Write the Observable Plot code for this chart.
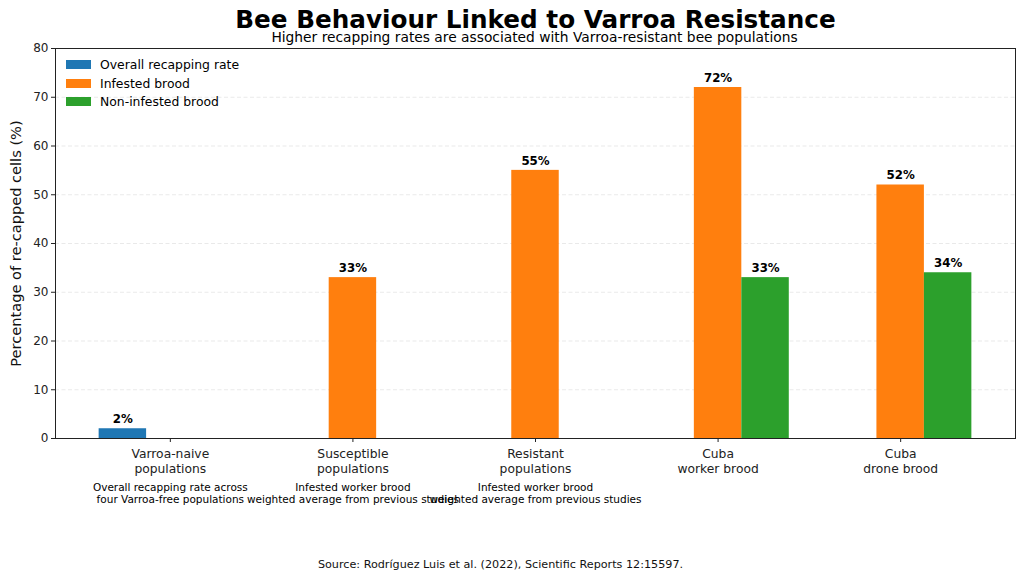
<!DOCTYPE html>
<html>
<head>
<meta charset="utf-8">
<script src="https://cdn.jsdelivr.net/npm/d3@7"></script>
<script src="https://cdn.jsdelivr.net/npm/@observablehq/plot@0.6"></script>
<style>
  html, body { margin: 0; padding: 0; background: #fff; }
  body { width: 1024px; height: 581px; overflow: hidden; font-family: "DejaVu Sans", sans-serif; color: #000; }
  #wrap { position: relative; width: 1024px; height: 581px; }
  #header { position: relative; height: 44px; }
  .title { position: absolute; left: 0; width: 1071px; text-align: center; top: 8px; font-size: 24.7px; font-weight: bold; line-height: 23px; }
  .subtitle { position: absolute; left: 0; width: 1069px; text-align: center; top: 31px; font-size: 13.8px; line-height: 13px; }
  #chart { position: relative; height: 496px; }
  #chart svg { overflow: visible; }
  #legend { position: absolute; left: 66px; top: 11px; font-size: 12.4px; }
  .row { display: flex; align-items: center; height: 18.8px; }
  .sw { width: 25px; height: 9px; margin-right: 9px; }
  #footer { position: relative; height: 41px; }
  .source { position: absolute; left: 0; width: 1001px; text-align: center; top: 18px; font-size: 11.2px; line-height: 14px; color: #111; }
</style>
</head>
<body>
<div id="wrap">
  <div id="header">
    <div class="title">Bee Behaviour Linked to Varroa Resistance</div>
    <div class="subtitle">Higher recapping rates are associated with Varroa-resistant bee populations</div>
  </div>
  <div id="chart"><div id="legend"></div></div>
  <div id="footer">
    <div class="source">Source: Rodríguez Luis et al. (2022), Scientific Reports 12:15597.</div>
  </div>
</div>
<script>
// ---- data ----
const categories = [
  "Varroa-naive\npopulations",
  "Susceptible\npopulations",
  "Resistant\npopulations",
  "Cuba\nworker brood",
  "Cuba\ndrone brood"
];
const notes = [
  "Overall recapping rate across\nfour Varroa-free populations",
  "Infested worker brood\nweighted average from previous studies",
  "Infested worker brood\nweighted average from previous studies",
  "",
  ""
];
const seriesNames = ["Overall recapping rate", "Infested brood", "Non-infested brood"];
const overallRate = [2, null, null, null, null];
const infestedBrood = [null, 33, 55, 72, 52];
const nonInfestedBrood = [null, null, null, 33, 34];
const seriesColors = ["#1f77b4", "#ff7f0e", "#2ca02c"];
const yTicks = [0, 10, 20, 30, 40, 50, 60, 70, 80];
const yLabel = "Percentage of re-capped cells (%)";

// ---- build table ----
const barWidth = 0.26;
const seriesValues = [overallRate, infestedBrood, nonInfestedBrood];
const seriesOffset = [-1, 0, 1];
const bars = [];
seriesValues.forEach((vals, s) => {
  vals.forEach((v, i) => {
    if (v == null) return;
    const c = i + seriesOffset[s] * barWidth;
    bars.push({series: seriesNames[s], idx: i, x1: c - barWidth / 2, x2: c + barWidth / 2, xc: c, value: v});
  });
});

const chart = Plot.plot({
  width: 1024,
  height: 496,
  marginTop: 4,
  marginBottom: 102,
  marginLeft: 55,
  marginRight: 9,
  style: {fontFamily: "DejaVu Sans, sans-serif", color: "#000", background: "transparent", overflow: "visible"},
  x: {type: "linear", domain: [-0.629, 4.629], axis: null},
  y: {domain: [0, 80], axis: null},
  color: {domain: seriesNames, range: seriesColors},
  marks: [
    Plot.gridY(yTicks.filter(t => t > 0 && t < 80), {stroke: "#b0b0b0", strokeOpacity: 0.35, strokeDasharray: "4,2.5", strokeWidth: 0.8}),
    Plot.rect(bars, {x1: "x1", x2: "x2", y1: 0, y2: "value", fill: "series", inset: 0}),
    Plot.text(bars, {x: "xc", y: "value", text: d => `${d.value}%`, dy: -9.5, fontWeight: "bold", fontSize: 11.8, fill: "#000"}),
    Plot.axisY({ticks: yTicks, tickSize: 4, tickPadding: 3, fontSize: 12, label: null, stroke: "#222", fill: "#222"}),
    Plot.axisX({ticks: d3.range(categories.length), tickFormat: i => categories[i], tickSize: 4, tickPadding: 5, fontSize: 12.3, lineHeight: 1.2, label: null, stroke: "#222", fill: "#222"}),
    Plot.axisX({ticks: d3.range(notes.length), tickFormat: i => notes[i], tickSize: 0, tickPadding: 44, fontSize: 10.5, lineHeight: 1.15, label: null, fill: "#000"}),
    Plot.text([yLabel], {frameAnchor: "left", textAnchor: "middle", rotate: -90, dx: -39, fontSize: 14.6, fill: "#111"}),
    Plot.frame({stroke: "#222", strokeWidth: 1})
  ]
});
document.getElementById("chart").prepend(chart);

// legend (inside the frame, upper left)
const legend = document.getElementById("legend");
seriesNames.forEach((name, s) => {
  const row = document.createElement("div");
  row.className = "row";
  const sw = document.createElement("span");
  sw.className = "sw";
  sw.style.background = seriesColors[s];
  const lab = document.createElement("span");
  lab.textContent = name;
  row.appendChild(sw);
  row.appendChild(lab);
  legend.appendChild(row);
});
</script>
</body>
</html>
